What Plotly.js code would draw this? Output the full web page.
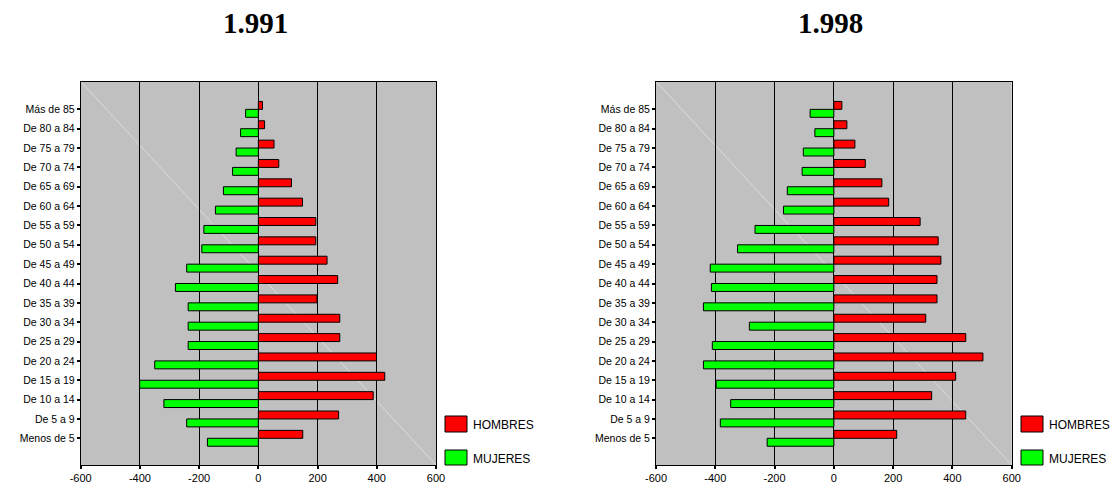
<!DOCTYPE html>
<html>
<head>
<meta charset="utf-8">
<script src="https://cdn.plot.ly/plotly-3.0.1.min.js"></script>
<style>html,body{margin:0;padding:0;background:#fff}#chart{width:1113px;height:489px}</style>
</head>
<body>
<div id="chart"></div>
<script>
// Age groups, bottom to top
const ageGroups = ["Menos de 5","De 5 a 9","De 10 a 14","De 15 a 19","De 20 a 24","De 25 a 29","De 30 a 34","De 35 a 39","De 40 a 44","De 45 a 49","De 50 a 54","De 55 a 59","De 60 a 64","De 65 a 69","De 70 a 74","De 75 a 79","De 80 a 84","Más de 85"];

// 1.991
const hombres1991 = [150, 271, 388, 427, 399, 275, 275, 198, 268, 232, 194, 194, 149, 112, 69, 53, 21, 14];
const mujeres1991 = [-172, -242, -319, -401, -350, -237, -237, -237, -280, -242, -191, -184, -145, -118, -87, -75, -60, -43];

// 1.998
const hombres1998 = [212, 445, 330, 411, 503, 445, 310, 348, 348, 361, 352, 291, 185, 162, 106, 71, 44, 27];
const mujeres1998 = [-225, -383, -348, -397, -440, -410, -285, -440, -413, -417, -325, -266, -170, -157, -107, -103, -64, -80];

const xTicks = [-600, -400, -200, 0, 200, 400, 600];
const titles = ["1.991", "1.998"];
const seriesNames = ["HOMBRES", "MUJERES"];
const colHombres = "#ff0000";
const colMujeres = "#00ff00";

function barTrace(vals, name, color, xa, ya) {
  return {
    type: "bar", orientation: "h", y: ageGroups, x: vals, name: name,
    xaxis: xa, yaxis: ya, showlegend: false,
    marker: {color: color, line: {color: "#000", width: 1}},
    hoverinfo: "x+y"
  };
}

const data = [
  barTrace(mujeres1991, seriesNames[1], colMujeres, "x", "y"),
  barTrace(hombres1991, seriesNames[0], colHombres, "x", "y"),
  barTrace(mujeres1998, seriesNames[1], colMujeres, "x2", "y2"),
  barTrace(hombres1998, seriesNames[0], colHombres, "x2", "y2")
];

const W = 1113, H = 489;
const yDom = [(H - 465) / H, (H - 81.5) / H];

function xAxis(dom, anchor) {
  return {
    domain: dom, anchor: anchor, range: [-600, 600], tickvals: xTicks,
    ticktext: xTicks.map(String),
    showgrid: true, gridcolor: "#000", gridwidth: 1,
    zeroline: true, zerolinecolor: "#000", zerolinewidth: 1,
    showline: true, linecolor: "#000", linewidth: 1, mirror: true,
    ticks: "outside", ticklen: 3, tickwidth: 2, tickcolor: "#000",
    tickfont: {family: "Liberation Sans, Arial, sans-serif", size: 11, color: "#000"},
    fixedrange: true
  };
}
function yAxis(anchor) {
  return {
    domain: yDom, anchor: anchor, type: "category", categoryarray: ageGroups,
    range: [-1.38, 18.44], showgrid: false, zeroline: false,
    showline: true, linecolor: "#000", linewidth: 1, mirror: true,
    ticks: "outside", ticklen: 3, tickwidth: 2, tickcolor: "#000",
    tickfont: {family: "Liberation Sans, Arial, sans-serif", size: 10.5, color: "#000"},
    fixedrange: true
  };
}

const xDomL = [80.7 / W, 436 / W];
const xDomR = [656 / W, 1011.7 / W];

const shapes = [];
const annotations = [];
[["x", "y"], ["x2", "y2"]].forEach(([xa, ya]) => {
  shapes.push({type: "line", xref: xa + " domain", yref: ya + " domain",
    x0: 0, y0: 1, x1: 1, y1: 0, layer: "below",
    line: {color: "#dcdcdc", width: 1}});
});

// titles
[[xDomL, titles[0]], [xDomR, titles[1]]].forEach(([d, t]) => {
  annotations.push({xref: "paper", yref: "paper", x: (d[0] + d[1]) / 2 - 0.003, y: 1 - 23 / H,
    xanchor: "center", yanchor: "middle", showarrow: false, text: "<b>" + t + "</b>",
    font: {family: "Liberation Serif, Times New Roman, serif", size: 29, color: "#000"}});
});

// legends (swatches + labels)
[445 / W, 1021 / W].forEach(x0 => {
  const sw = 22 / W;
  [[416, 432, colHombres, seriesNames[0]], [450, 465, colMujeres, seriesNames[1]]].forEach(([t, b, c, n]) => {
    shapes.push({type: "rect", xref: "paper", yref: "paper", x0: x0, x1: x0 + sw,
      y0: 1 - b / H, y1: 1 - t / H, fillcolor: c, line: {color: "#000", width: 1}});
    annotations.push({xref: "paper", yref: "paper", x: x0 + 26 / W, y: 1 - ((t + b) / 2 + 1) / H,
      xanchor: "left", yanchor: "middle", showarrow: false, text: n,
      font: {family: "Liberation Sans, Arial, sans-serif", size: 12, color: "#000"}});
  });
});

const layout = {
  width: W, height: H,
  margin: {l: 0, r: 0, t: 0, b: 0},
  paper_bgcolor: "#fff", plot_bgcolor: "#c0c0c0",
  barmode: "group", bargap: 0.18, bargroupgap: 0,
  showlegend: false,
  xaxis: xAxis(xDomL, "y"), yaxis: yAxis("x"),
  xaxis2: xAxis(xDomR, "y2"), yaxis2: yAxis("x2"),
  shapes: shapes, annotations: annotations
};

Plotly.newPlot("chart", data, layout, {staticPlot: false, displayModeBar: false});
</script>
</body>
</html>
